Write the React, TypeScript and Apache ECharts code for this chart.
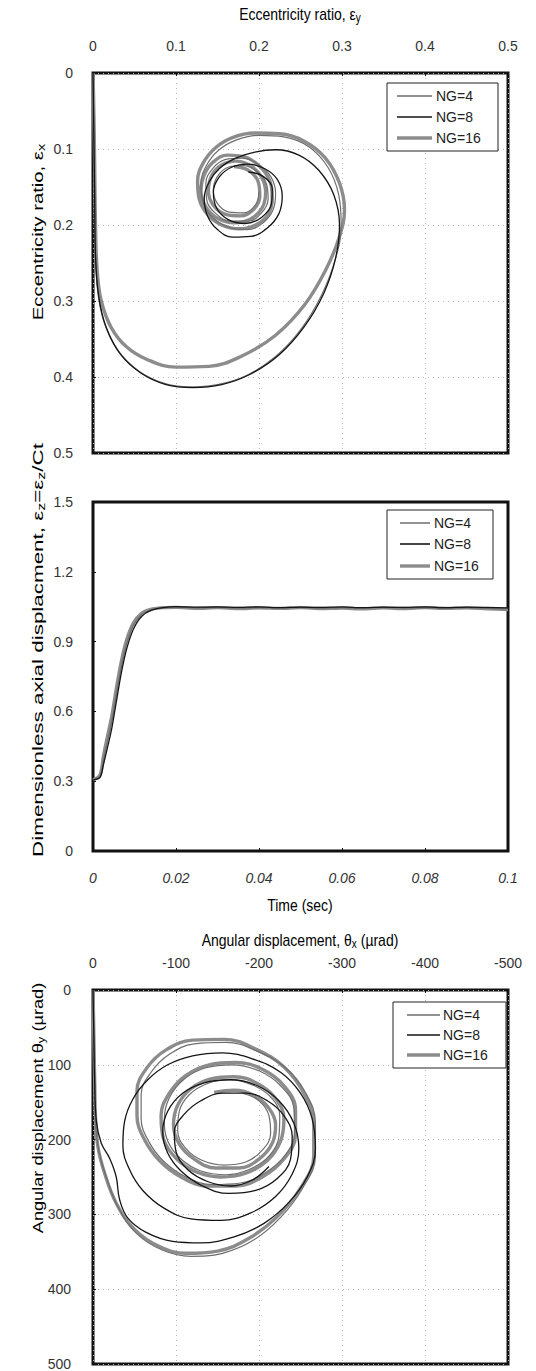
import React, { useEffect, useRef } from "react";
import * as echarts from "echarts";

// ---------- Panel 1: eccentricity orbit [eps_y, eps_x] ----------
const ECC_NG16: [number, number][] = [
  [0, 0], [0.001, 0.05], [0.002, 0.12], [0.003, 0.2], [0.005, 0.26], [0.01, 0.3], [0.022, 0.335],
  [0.04, 0.36], [0.065, 0.377], [0.1, 0.387], [0.14, 0.386], [0.18, 0.372], [0.22, 0.345],
  [0.255, 0.305], [0.28, 0.26], [0.297, 0.215], [0.303, 0.18], [0.297, 0.145], [0.28, 0.112],
  [0.255, 0.09], [0.225, 0.08], [0.195, 0.079], [0.168, 0.085], [0.148, 0.098], [0.133, 0.118],
  [0.126, 0.142], [0.128, 0.166], [0.138, 0.186], [0.155, 0.2], [0.176, 0.205], [0.196, 0.2],
  [0.211, 0.186], [0.216, 0.165], [0.213, 0.142], [0.2, 0.122], [0.182, 0.11], [0.162, 0.108],
  [0.145, 0.117], [0.134, 0.134], [0.13, 0.155], [0.136, 0.176], [0.15, 0.191], [0.17, 0.197],
  [0.19, 0.192], [0.204, 0.177], [0.208, 0.157], [0.203, 0.137], [0.19, 0.122], [0.172, 0.116],
  [0.155, 0.121], [0.143, 0.135], [0.139, 0.155], [0.145, 0.174], [0.16, 0.186], [0.178, 0.188],
  [0.194, 0.179], [0.201, 0.162], [0.199, 0.143], [0.187, 0.128], [0.17, 0.123],
];
const ECC_NG4: [number, number][] = [
  [0, 0], [0.001, 0.08], [0.002, 0.16], [0.003, 0.24], [0.006, 0.29], [0.014, 0.33], [0.03, 0.365],
  [0.055, 0.392], [0.085, 0.408], [0.115, 0.413], [0.15, 0.41], [0.185, 0.398], [0.22, 0.373],
  [0.25, 0.338], [0.275, 0.293], [0.292, 0.245], [0.299, 0.2], [0.296, 0.16], [0.283, 0.124],
  [0.26, 0.097], [0.23, 0.084], [0.2, 0.082], [0.173, 0.088], [0.152, 0.101], [0.137, 0.121],
  [0.13, 0.146], [0.133, 0.171], [0.145, 0.191], [0.164, 0.203], [0.186, 0.206], [0.205, 0.197],
  [0.217, 0.18], [0.22, 0.158], [0.214, 0.136], [0.199, 0.12], [0.179, 0.112], [0.159, 0.114],
  [0.144, 0.126], [0.136, 0.145], [0.137, 0.167], [0.148, 0.185], [0.166, 0.195], [0.187, 0.195],
  [0.203, 0.184], [0.211, 0.166], [0.209, 0.146], [0.198, 0.13], [0.181, 0.122], [0.163, 0.124],
  [0.15, 0.136], [0.145, 0.154], [0.15, 0.172], [0.164, 0.183], [0.182, 0.184], [0.196, 0.173],
  [0.2, 0.156],
];
const ECC_NG8: [number, number][] = [
  [0, 0], [0.001, 0.08], [0.002, 0.16], [0.003, 0.24], [0.007, 0.295], [0.016, 0.335], [0.033, 0.37],
  [0.058, 0.395], [0.088, 0.41], [0.12, 0.414], [0.155, 0.41], [0.19, 0.396], [0.225, 0.37],
  [0.255, 0.333], [0.278, 0.29], [0.292, 0.245], [0.297, 0.2], [0.29, 0.16], [0.272, 0.128],
  [0.248, 0.108], [0.22, 0.101], [0.195, 0.104], [0.172, 0.112], [0.153, 0.125], [0.14, 0.143],
  [0.134, 0.165], [0.138, 0.188], [0.15, 0.206], [0.168, 0.216], [0.19, 0.215], [0.21, 0.204],
  [0.224, 0.185], [0.228, 0.162], [0.222, 0.14], [0.207, 0.126], [0.187, 0.12], [0.167, 0.124],
  [0.152, 0.137], [0.145, 0.157], [0.149, 0.178], [0.163, 0.193], [0.183, 0.198], [0.203, 0.19],
  [0.215, 0.172], [0.216, 0.152], [0.205, 0.136], [0.187, 0.13],
];

// ---------- Panel 2: axial displacement vs time ----------
const TIME = [0, 0.0017, 0.0025, 0.0033, 0.0045, 0.0057, 0.0069, 0.0081, 0.0097, 0.0117, 0.0141,
  0.0169, 0.02, 0.025, 0.03, 0.035, 0.04, 0.045, 0.05, 0.055, 0.06, 0.065, 0.07, 0.075, 0.08,
  0.085, 0.09, 0.095, 0.1];
const AXIAL_NG16 = [0.305, 0.327, 0.405, 0.477, 0.577, 0.706, 0.821, 0.907, 0.978, 1.021, 1.039,
  1.046, 1.047, 1.043, 1.046, 1.042, 1.045, 1.043, 1.046, 1.042, 1.044, 1.041, 1.045, 1.042, 1.046,
  1.043, 1.045, 1.041, 1.038];
const AXIAL_NG4 = [0.305, 0.322, 0.39, 0.455, 0.555, 0.68, 0.8, 0.89, 0.968, 1.016, 1.037,
  1.045, 1.048, 1.045, 1.047, 1.044, 1.046, 1.045, 1.047, 1.043, 1.046, 1.044, 1.047, 1.044, 1.045,
  1.044, 1.046, 1.043, 1.041];
const AXIAL_NG8 = [0.305, 0.316, 0.37, 0.43, 0.525, 0.65, 0.772, 0.868, 0.952, 1.008, 1.035,
  1.046, 1.05, 1.048, 1.049, 1.047, 1.049, 1.046, 1.048, 1.047, 1.049, 1.046, 1.048, 1.047, 1.049,
  1.046, 1.048, 1.047, 1.045];

// ---------- Panel 3: angular displacement orbit [theta_x, theta_y] ----------
const ANG_NG16: [number, number][] = [
  [0, 0], [-1, 60], [-2, 120], [-3, 170], [-6, 210], [-14, 245], [-28, 285], [-50, 320], [-80, 343],
  [-112, 352], [-150, 349], [-188, 332], [-222, 303], [-250, 265], [-266, 222], [-266, 178],
  [-254, 138], [-230, 103], [-196, 79], [-158, 66], [-120, 67], [-88, 80], [-65, 104], [-53, 135],
  [-53, 168], [-62, 200], [-80, 228], [-106, 250], [-138, 262], [-172, 262], [-204, 250], [-230, 226],
  [-244, 194], [-244, 160], [-230, 128], [-204, 106], [-172, 97], [-140, 100], [-112, 114], [-92, 138],
  [-82, 168], [-85, 199], [-100, 225], [-124, 243], [-154, 250], [-184, 245], [-210, 228], [-226, 202],
  [-230, 172], [-220, 145], [-198, 125], [-170, 116], [-142, 119], [-118, 132], [-102, 154], [-97, 180],
  [-104, 206], [-122, 226], [-148, 238], [-176, 238], [-200, 226], [-216, 205], [-220, 180], [-212, 158],
  [-194, 141], [-170, 134], [-146, 137],
];
const ANG_NG4: [number, number][] = [
  [0, 0], [-1, 60], [-2, 120], [-3, 175], [-7, 215], [-16, 250], [-30, 290], [-52, 325], [-84, 348],
  [-118, 356], [-156, 352], [-194, 334], [-226, 304], [-252, 266], [-268, 222], [-268, 178],
  [-256, 137], [-232, 104], [-198, 82], [-160, 70], [-122, 72], [-92, 86], [-70, 110], [-58, 140],
  [-58, 172], [-68, 204], [-86, 230], [-112, 250], [-144, 260], [-178, 258], [-208, 244], [-232, 220],
  [-243, 190], [-242, 158], [-226, 128], [-200, 108], [-168, 100], [-136, 104], [-110, 119], [-92, 144],
  [-86, 172], [-90, 202], [-106, 226], [-130, 242], [-160, 247], [-188, 240], [-212, 222], [-224, 196],
  [-225, 168], [-214, 143], [-192, 127], [-164, 120], [-138, 125], [-116, 140], [-104, 162], [-102, 188],
  [-112, 212], [-132, 228], [-158, 234], [-184, 230], [-204, 214], [-214, 192], [-212, 168], [-200, 148],
  [-180, 138],
];
const ANG_NG8: [number, number][] = [
  [0, 0], [-1, 60], [-2, 120], [-4, 175], [-10, 205], [-20, 225], [-28, 250], [-32, 280], [-42, 305],
  [-64, 324], [-96, 336], [-130, 338], [-170, 330], [-206, 312], [-236, 284], [-258, 250], [-268, 212],
  [-264, 172], [-250, 138], [-226, 110], [-192, 92], [-156, 84], [-120, 88], [-90, 100], [-66, 120],
  [-48, 146], [-38, 176], [-36, 208], [-44, 240], [-60, 268], [-86, 292], [-118, 306], [-154, 308],
  [-190, 298], [-220, 276], [-240, 246], [-248, 212], [-242, 178], [-224, 148], [-198, 128], [-166, 120],
  [-134, 124], [-108, 138], [-90, 162], [-84, 190], [-90, 218], [-106, 242], [-132, 262], [-164, 272],
  [-196, 268], [-222, 252], [-238, 226], [-240, 196], [-230, 168], [-210, 148], [-184, 138], [-156, 138],
  [-130, 148], [-110, 166], [-98, 190], [-100, 216], [-114, 240], [-138, 256], [-166, 262], [-192, 254],
  [-212, 236],
];

const LEGEND_NAMES = ["NG=4", "NG=8", "NG=16"];
const ECC_TICKS = [0, 0.1, 0.2, 0.3, 0.4, 0.5];
const AXIAL_TICKS = [0, 0.3, 0.6, 0.9, 1.2, 1.5];
const TIME_TICKS = [0, 0.02, 0.04, 0.06, 0.08, 0.1];
const ANG_TICKS = [0, -100, -200, -300, -400, -500];

const FONT = "Liberation Sans, Arial, sans-serif";
const LINE_STYLE: Record<string, any> = {
  "NG=4": { color: "#6e6e6e", width: 1.2 },
  "NG=8": { color: "#151515", width: 1.3 },
  "NG=16": { color: "#8c8c8c", width: 3.4 },
};

const GRIDS = [
  { left: 93, top: 73, width: 415, height: 380 },
  { left: 93, top: 502, width: 415, height: 349 },
  { left: 93, top: 990, width: 415, height: 376 },
];

export default function App() {
  const ref = useRef<HTMLDivElement>(null);
  useEffect(() => {
    if (!ref.current) return;
    const chart = echarts.init(ref.current, undefined, { renderer: "svg" });
    const labelStyle = { fontFamily: FONT, fontSize: 14, color: "#333" };
    const dotted = { show: true, lineStyle: { color: "#b8b8b8", type: [1, 4], width: 1 } };
    const tick = { show: true, length: 3, inside: true, lineStyle: { color: "#111" } };

    const mkLine = (name: string, data: any[], xi: number, yi: number, smooth = 0.4) => ({
      type: "line",
      name,
      data,
      xAxisIndex: xi,
      yAxisIndex: yi,
      showSymbol: false,
      symbol: "none",
      smooth,
      lineStyle: LINE_STYLE[name],
      itemStyle: { color: LINE_STYLE[name].color },
      z: name === "NG=16" ? 2 : name === "NG=4" ? 3 : 4,
      silent: true,
    });

    const zip = (xs: number[], ys: number[]) => xs.map((x, i) => [x, ys[i]]);

    // legend drawn as a boxed group: box (x, y, w, h), sample line from lx0 to lx1, text at tx, rows at ys
    const legendBox = (x: number, y: number, w: number, h: number, lx0: number, lx1: number, tx: number, ys: number[]) => ({
      type: "group",
      z: 100,
      children: [
        { type: "rect", shape: { x, y, width: w, height: h }, style: { fill: "#fff", stroke: "#222", lineWidth: 1 }, z: 100 },
        ...LEGEND_NAMES.flatMap((n, i) => [
          { type: "line", shape: { x1: lx0, y1: ys[i], x2: lx1, y2: ys[i] },
            style: { stroke: LINE_STYLE[n].color, lineWidth: LINE_STYLE[n].width + (n === "NG=16" ? 0 : 0.3) }, z: 101 },
          { type: "text", x: tx, y: ys[i], style: { text: n, fontFamily: FONT, fontSize: 14, fill: "#222",
            align: "left", verticalAlign: "middle" }, z: 101 },
        ]),
      ],
    });

    const rich = {
      a: { fontFamily: FONT, fontSize: 14, color: "#222", lineHeight: 16 },
      s: { fontFamily: FONT, fontSize: 10, color: "#222", lineHeight: 10, verticalAlign: "bottom", padding: [6, 0, 0, 0] },
    };
    const title = (text: string, x: number, y: number, vertical: boolean, stretch: number) => ({
      type: "text",
      x,
      y,
      rotation: vertical ? Math.PI / 2 : 0,
      scaleX: vertical ? stretch : 1,
      scaleY: vertical ? 1.1 : stretch,
      style: { text, rich, align: "center", verticalAlign: "middle" },
    });

    const option: any = {
      animation: false,
      backgroundColor: "#fff",
      grid: GRIDS.map((g) => ({ ...g, show: true, borderColor: "#111", borderWidth: 3, backgroundColor: "#fff", containLabel: false })),
      xAxis: [
        { gridIndex: 0, type: "value", position: "top", min: ECC_TICKS[0], max: ECC_TICKS[5], interval: 0.1,
          axisLine: { show: false }, axisTick: tick, splitLine: dotted, axisLabel: { ...labelStyle, margin: 20 } },
        { gridIndex: 1, type: "value", position: "bottom", min: TIME_TICKS[0], max: TIME_TICKS[5], interval: 0.02,
          axisLine: { show: false }, axisTick: tick, splitLine: { show: false },
          axisLabel: { ...labelStyle, fontStyle: "italic", margin: 20 } },
        { gridIndex: 2, type: "value", position: "top", min: ANG_TICKS[5], max: ANG_TICKS[0], interval: 100, inverse: true,
          axisLine: { show: false }, axisTick: tick, splitLine: dotted, axisLabel: { ...labelStyle, margin: 20 } },
      ],
      yAxis: [
        { gridIndex: 0, type: "value", min: ECC_TICKS[0], max: ECC_TICKS[5], interval: 0.1, inverse: true,
          axisLine: { show: false }, axisTick: tick, splitLine: dotted, axisLabel: { ...labelStyle, margin: 20 } },
        { gridIndex: 1, type: "value", min: AXIAL_TICKS[0], max: AXIAL_TICKS[5], interval: 0.3,
          axisLine: { show: false }, axisTick: tick, splitLine: { show: false }, axisLabel: { ...labelStyle, margin: 20 } },
        { gridIndex: 2, type: "value", min: 0, max: 500, interval: 100, inverse: true,
          axisLine: { show: false }, axisTick: tick, splitLine: dotted, axisLabel: { ...labelStyle, margin: 22 } },
      ],
      series: [
        mkLine("NG=16", ECC_NG16, 0, 0),
        mkLine("NG=4", ECC_NG4, 0, 0),
        mkLine("NG=8", ECC_NG8, 0, 0),
        mkLine("NG=16", zip(TIME, AXIAL_NG16), 1, 1, 0.3),
        mkLine("NG=4", zip(TIME, AXIAL_NG4), 1, 1, 0.3),
        mkLine("NG=8", zip(TIME, AXIAL_NG8), 1, 1, 0.3),
        mkLine("NG=16", ANG_NG16, 2, 2),
        mkLine("NG=4", ANG_NG4, 2, 2),
        mkLine("NG=8", ANG_NG8, 2, 2),
      ],
      graphic: [
        title("{a|Eccentricity ratio, ε}{s|y}", 300, 14, false, 1.2),
        title("{a|Eccentricity ratio, ε}{s|x}", 38, 232, true, 1.45),
        title("{a|Dimensionless axial displacment, ε}{s|z}{a|=ε}{s|z}{a|/Ct}", 38, 650, true, 1.6),
        title("{a|Time (sec)}", 300, 905, false, 1.2),
        title("{a|Angular displacement, θ}{s|x}{a| (µrad)}", 300, 940, false, 1.2),
        title("{a|Angular displacement θ}{s|y}{a| (µrad)}", 38, 1108, true, 1.3),
        legendBox(387, 83, 111, 68, 397, 432, 436, [96, 117, 138]),
        legendBox(387, 510, 106, 69, 400, 430, 434, [523, 544, 566]),
        legendBox(393, 1002, 113, 66, 407, 440, 443, [1015, 1035, 1055]),
      ],
    };
    chart.setOption(option);
    return () => chart.dispose();
  }, []);
  return (
    <div
      ref={ref}
      style={{ position: "absolute", left: 0, top: 0, width: 536, height: 1371, background: "#fff" }}
    />
  );
}
